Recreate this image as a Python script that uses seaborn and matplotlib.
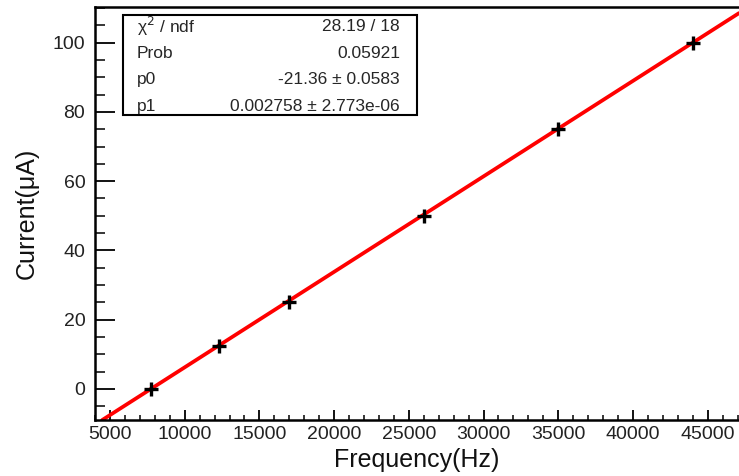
import numpy as np
import pandas as pd
import seaborn as sns
import matplotlib.pyplot as plt
from matplotlib.ticker import MultipleLocator

# measured points
freq_hz = [7745, 12300, 17000, 26000, 35000, 44000]
current_ua = [0.0, 12.5, 25.0, 50.0, 75.0, 100.0]

# fit results (pol1)
p0 = -21.36
p1 = 0.002758
stat_labels = ['\u03c7$^{2}$ / ndf', 'Prob', 'p0', 'p1']
stat_values = ['28.19 / 18', '0.05921', '-21.36 \u00b1 0.0583', '0.002758 \u00b1 2.773e-06']

df = pd.DataFrame({'Frequency': freq_hz, 'Current': current_ua})

sns.set_style('ticks')
plt.rcParams['font.family'] = ['Liberation Sans', 'DejaVu Sans']

fig = plt.figure(figsize=(7.39, 4.76), dpi=100)
ax = fig.add_axes([0.1286, 0.1176, 0.8714, 0.8676])

# fitted function
ax.axline((0, p0), slope=p1, color='red', lw=2.7, zorder=2)

sns.scatterplot(data=df, x='Frequency', y='Current', marker='+', s=100,
                color='black', linewidth=2.4, zorder=3, ax=ax)

ax.set_xlim(4000, 47100)
ax.set_ylim(-9, 110.3)

ax.xaxis.set_major_locator(MultipleLocator(5000))
ax.xaxis.set_minor_locator(MultipleLocator(1000))
ax.yaxis.set_major_locator(MultipleLocator(20))
ax.yaxis.set_minor_locator(MultipleLocator(5))

ax.tick_params(axis='x', which='major', direction='in', length=7.2, width=1.3,
               labelsize=14, pad=4, colors='black', labelcolor='#222222')
ax.tick_params(axis='x', which='minor', direction='in', length=3.6, width=1.3)
ax.tick_params(axis='y', which='major', direction='in', length=14.4, width=1.3,
               labelsize=14, pad=7, colors='black', labelcolor='#222222')
ax.tick_params(axis='y', which='minor', direction='in', length=7.2, width=1.3)

for side in ['left', 'bottom', 'top']:
    ax.spines[side].set_linewidth(1.8)
    ax.spines[side].set_color('black')
ax.spines['right'].set_visible(False)

ax.set_xlabel('Frequency(Hz)', fontsize=18, labelpad=4, color='#111111')
ax.set_ylabel('Current(\u03bcA)', fontsize=18, labelpad=10, color='#111111')

# stats box
box = plt.Rectangle((0.0435, 0.7385), 0.4565, 0.242, transform=ax.transAxes,
                    facecolor='white', edgecolor='black', lw=1.5, zorder=4)
ax.add_patch(box)
row_y = [0.952, 0.888, 0.824, 0.760]
for lab, val, yy in zip(stat_labels, stat_values, row_y):
    ax.text(0.065, yy, lab, transform=ax.transAxes, fontsize=12.5,
            ha='left', va='center', zorder=5)
    ax.text(0.4736, yy, val, transform=ax.transAxes, fontsize=12.5,
            ha='right', va='center', zorder=5)

fig.savefig('out.png', dpi=100)
